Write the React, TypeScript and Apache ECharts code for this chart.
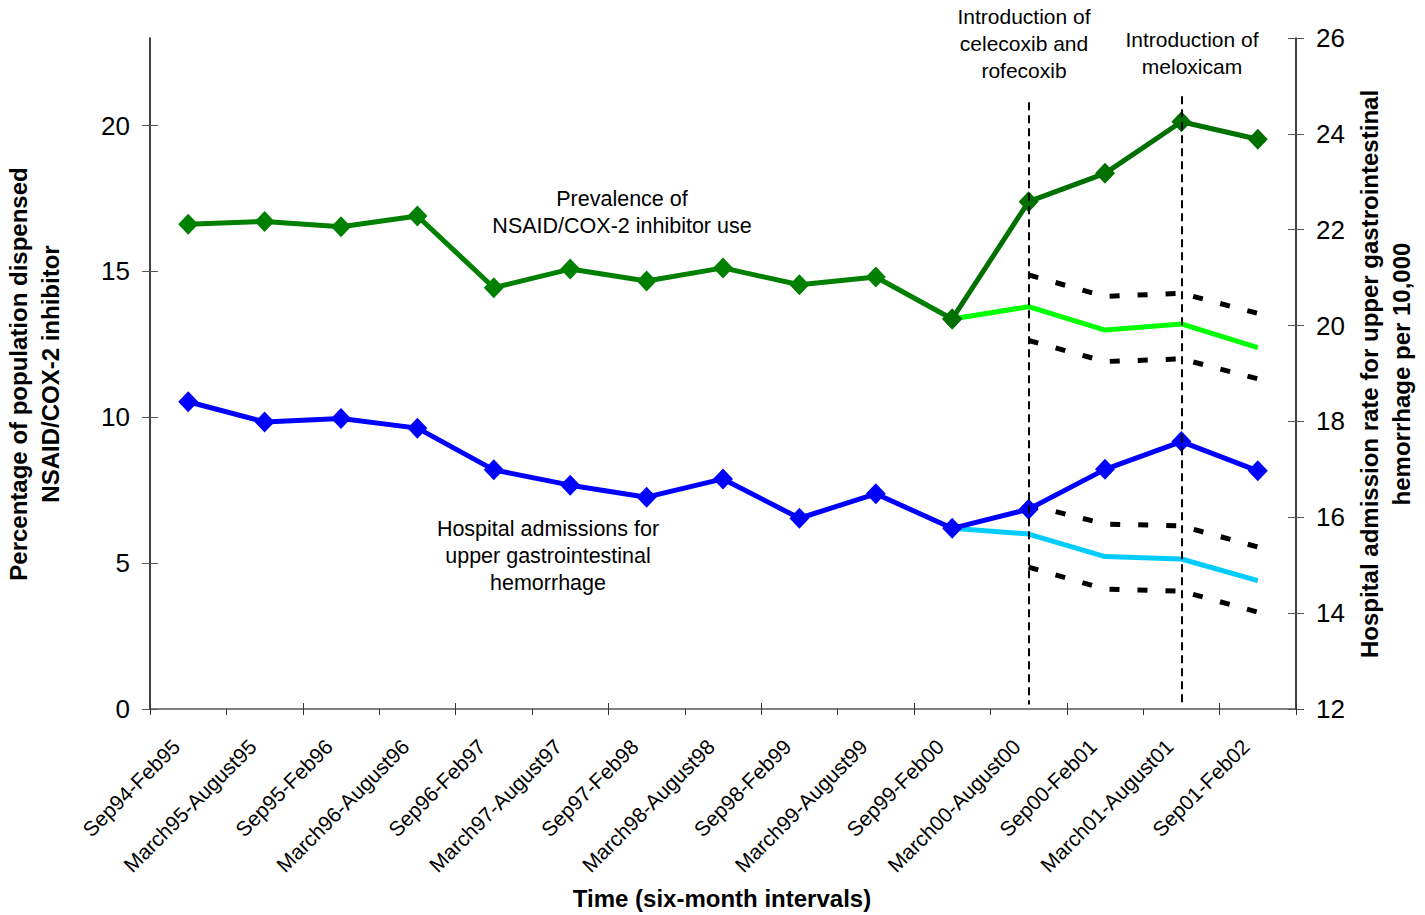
import React, { useEffect, useRef } from "react";
import * as echarts from "echarts";

// Six-month intervals
const categories = [
  "Sep94-Feb95",
  "March95-August95",
  "Sep95-Feb96",
  "March96-August96",
  "Sep96-Feb97",
  "March97-August97",
  "Sep97-Feb98",
  "March98-August98",
  "Sep98-Feb99",
  "March99-August99",
  "Sep99-Feb00",
  "March00-August00",
  "Sep00-Feb01",
  "March01-August01",
  "Sep01-Feb02",
];

// Percentage of population dispensed NSAID/COX-2 inhibitor (left axis)
const prevalence = [16.62, 16.71, 16.53, 16.9, 14.44, 15.08, 14.67, 15.12, 14.54, 14.81, 13.37, 17.39, 18.36, 20.13, 19.53];
// Expected prevalence without the new agents, with its bounds
const prevalenceExpected = [null, null, null, null, null, null, null, null, null, null, 13.37, 13.79, 12.99, 13.2, 12.39];
const prevalenceUpper = [null, null, null, null, null, null, null, null, null, null, null, 14.88, 14.14, 14.25, 13.56];
const prevalenceLower = [null, null, null, null, null, null, null, null, null, null, null, 12.63, 11.91, 12.0, 11.32];

// Hospital admission rate per 10,000 (right axis)
const admissions = [18.41, 17.99, 18.06, 17.86, 16.99, 16.67, 16.42, 16.8, 15.98, 16.49, 15.77, 16.17, 17.0, 17.58, 16.97];
const admissionsExpected = [null, null, null, null, null, null, null, null, null, null, 15.77, 15.65, 15.18, 15.13, 14.68];
const admissionsUpper = [null, null, null, null, null, null, null, null, null, null, null, 16.26, 15.86, 15.82, 15.38];
const admissionsLower = [null, null, null, null, null, null, null, null, null, null, null, 14.96, 14.5, 14.46, 14.02];

const leftTicks = [0, 5, 10, 15, 20];
const rightTicks = [12, 14, 16, 18, 20, 22, 24, 26];

// Introduction events: category and top of the marker line (left-axis units)
const events = [
  { cat: "March00-August00", top: 20.8 },
  { cat: "March01-August01", top: 21.0 },
];

const FONT = "'Liberation Sans', Arial, Helvetica, sans-serif";
const SPLIT = 10; // index where the later period begins

export default function App() {
  const ref = useRef<HTMLDivElement>(null);

  useEffect(() => {
    if (!ref.current) return;
    const chart = echarts.init(ref.current, null, { renderer: "svg" });

    const early = prevalence.map((v, i) => (i <= SPLIT ? v : null));
    const late = prevalence.map((v, i) => (i >= SPLIT ? v : null));

    const boundStyle = { color: "#000", width: 5, type: [10, 18] as number[], cap: "butt" as const };

    const option: any = {
      animation: false,
      textStyle: { fontFamily: FONT },
      grid: { left: 150, right: 129, top: 38, bottom: 206, containLabel: false },
      xAxis: [
        {
          type: "category",
          data: categories,
          boundaryGap: true,
          position: "bottom",
          axisLine: { lineStyle: { color: "#555", width: 1.5 } },
          axisTick: { show: true, inside: false, length: 6, lineStyle: { color: "#333" } },
          axisLabel: {
            rotate: 45,
            interval: 0,
            margin: 22,
            padding: [0, 17, 0, 0],
            fontSize: 21,
            color: "#000",
            fontFamily: FONT,
          },
        },
        {
          type: "category",
          data: categories,
          boundaryGap: true,
          position: "bottom",
          axisLine: { show: false },
          axisTick: { show: true, inside: true, length: 6, lineStyle: { color: "#333" } },
          axisLabel: { show: false },
        },
      ],
      yAxis: [
        {
          type: "value",
          position: "left",
          min: 0,
          max: 23,
          interval: 5,
          splitLine: { show: false },
          axisLine: { show: true, lineStyle: { color: "#000", width: 1.5 } },
          axisTick: { show: true, length: 8, customValues: leftTicks, lineStyle: { color: "#555" } },
          axisLabel: { customValues: leftTicks, fontSize: 26, margin: 20, color: "#000", fontFamily: FONT },
        },
        {
          type: "value",
          position: "right",
          min: 12,
          max: 26,
          interval: 2,
          splitLine: { show: false },
          axisLine: { show: true, lineStyle: { color: "#000", width: 1.5 } },
          axisTick: { show: true, length: 8, customValues: rightTicks, lineStyle: { color: "#555" } },
          axisLabel: { customValues: rightTicks, fontSize: 26, margin: 20, color: "#000", fontFamily: FONT },
        },
        {
          type: "value",
          position: "left",
          min: 0,
          max: 23,
          interval: 5,
          splitLine: { show: false },
          axisLine: { show: false },
          axisTick: { show: true, inside: true, length: 8, customValues: leftTicks, lineStyle: { color: "#555" } },
          axisLabel: { show: false },
        },
        {
          type: "value",
          position: "right",
          min: 12,
          max: 26,
          interval: 2,
          splitLine: { show: false },
          axisLine: { show: false },
          axisTick: { show: true, inside: true, length: 8, customValues: rightTicks, lineStyle: { color: "#555" } },
          axisLabel: { show: false },
        },
      ],
      series: [
        // Introduction markers
        {
          type: "line",
          yAxisIndex: 0,
          data: [],
          silent: true,
          markLine: {
            silent: true,
            symbol: "none",
            label: { show: false },
            lineStyle: { color: "#000", width: 2, type: [8, 5] },
            data: events.map((e) => [
              { coord: [e.cat, e.top] },
              { coord: [e.cat, 0.15] },
            ]),
          },
        },
        // Expected prevalence and bounds
        {
          name: "Expected prevalence",
          type: "line",
          yAxisIndex: 0,
          data: prevalenceExpected,
          symbol: "none",
          lineStyle: { color: "#00ff00", width: 5 },
          itemStyle: { color: "#00ff00" },
        },
        { type: "line", yAxisIndex: 0, data: prevalenceUpper, symbol: "none", lineStyle: boundStyle },
        { type: "line", yAxisIndex: 0, data: prevalenceLower, symbol: "none", lineStyle: boundStyle },
        // Expected admissions and bounds
        {
          name: "Expected admissions",
          type: "line",
          yAxisIndex: 1,
          data: admissionsExpected,
          symbol: "none",
          lineStyle: { color: "#00ccff", width: 5 },
          itemStyle: { color: "#00ccff" },
        },
        { type: "line", yAxisIndex: 1, data: admissionsUpper, symbol: "none", lineStyle: boundStyle },
        { type: "line", yAxisIndex: 1, data: admissionsLower, symbol: "none", lineStyle: boundStyle },
        // Observed prevalence
        {
          name: "Prevalence",
          type: "line",
          yAxisIndex: 0,
          data: early,
          symbol: "diamond",
          symbolSize: [20, 21],
          lineStyle: { color: "#008000", width: 5 },
          itemStyle: { color: "#008000" },
        },
        {
          name: "Prevalence (later)",
          type: "line",
          yAxisIndex: 0,
          data: late,
          symbol: "diamond",
          symbolSize: [20, 21],
          lineStyle: { color: "#007000", width: 5 },
          itemStyle: { color: "#007000" },
        },
        // Observed admissions
        {
          name: "Admissions",
          type: "line",
          yAxisIndex: 1,
          data: admissions,
          symbol: "diamond",
          symbolSize: [20, 21],
          lineStyle: { color: "#0000ff", width: 5 },
          itemStyle: { color: "#0000ff" },
        },
      ],
      graphic: [
        {
          type: "text",
          x: 1024,
          y: 3,
          style: {
            text: "Introduction of\ncelecoxib and\nrofecoxib",
            fontSize: 21,
            lineHeight: 27,
            fontFamily: FONT,
            fill: "#000",
            textAlign: "center",
            textVerticalAlign: "top",
          },
        },
        {
          type: "text",
          x: 1192,
          y: 26,
          style: {
            text: "Introduction of\nmeloxicam",
            fontSize: 21,
            lineHeight: 27,
            fontFamily: FONT,
            fill: "#000",
            textAlign: "center",
            textVerticalAlign: "top",
          },
        },
        {
          type: "text",
          x: 622,
          y: 185,
          style: {
            text: "Prevalence of\nNSAID/COX-2 inhibitor use",
            fontSize: 21.5,
            lineHeight: 27,
            fontFamily: FONT,
            fill: "#000",
            textAlign: "center",
            textVerticalAlign: "top",
          },
        },
        {
          type: "text",
          x: 548,
          y: 515,
          style: {
            text: "Hospital admissions for\nupper gastrointestinal\nhemorrhage",
            fontSize: 21.5,
            lineHeight: 27,
            fontFamily: FONT,
            fill: "#000",
            textAlign: "center",
            textVerticalAlign: "top",
          },
        },
        {
          type: "text",
          x: 34,
          y: 374,
          rotation: Math.PI / 2,
          style: {
            text: "Percentage of population dispensed\nNSAID/COX-2 inhibitor",
            fontSize: 24,
            fontWeight: "bold",
            lineHeight: 32,
            fontFamily: FONT,
            fill: "#000",
            textAlign: "center",
            textVerticalAlign: "middle",
          },
        },
        {
          type: "text",
          x: 1385,
          y: 374,
          rotation: Math.PI / 2,
          style: {
            text: "Hospital admission rate for upper gastrointestinal\nhemorrhage per 10,000",
            fontSize: 24,
            fontWeight: "bold",
            lineHeight: 32,
            fontFamily: FONT,
            fill: "#000",
            textAlign: "center",
            textVerticalAlign: "middle",
          },
        },
        {
          type: "text",
          x: 722,
          y: 898,
          style: {
            text: "Time (six-month intervals)",
            fontSize: 24,
            fontWeight: "bold",
            fontFamily: FONT,
            fill: "#000",
            textAlign: "center",
            textVerticalAlign: "middle",
          },
        },
      ],
    };

    chart.setOption(option);
    return () => chart.dispose();
  }, []);

  return (
    <div
      ref={ref}
      style={{ position: "fixed", left: 0, top: 0, width: 1425, height: 915, background: "#fff" }}
    />
  );
}
